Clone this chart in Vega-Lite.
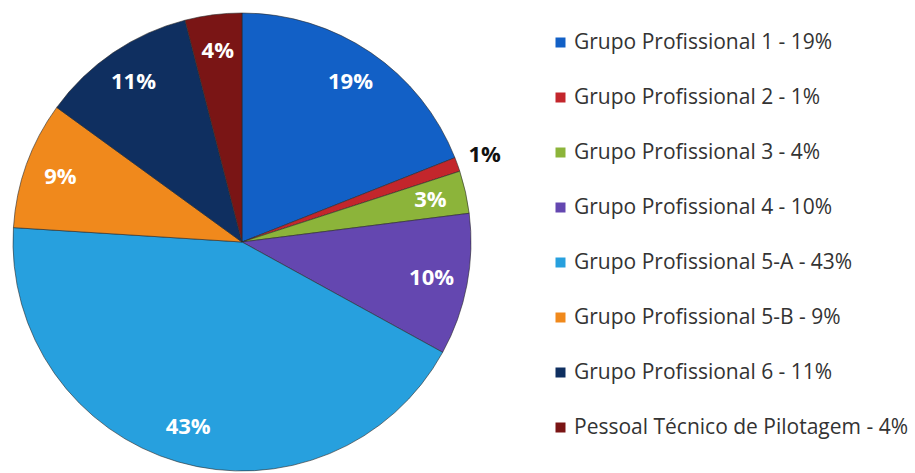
{
  "$schema": "https://vega.github.io/schema/vega-lite/v6.json",
  "width": 484,
  "height": 484,
  "autosize": {"type": "none"},
  "padding": {"left": 0, "top": 0, "right": 431, "bottom": 0},
  "background": "white",
  "data": {
    "values": [
      {"k": 1, "grupo": "Grupo Profissional 1 - 19%", "valor": 19, "rotulo": "19%"},
      {"k": 2, "grupo": "Grupo Profissional 2 - 1%", "valor": 1, "rotulo": "1%"},
      {"k": 3, "grupo": "Grupo Profissional 3 - 4%", "valor": 3, "rotulo": "3%"},
      {"k": 4, "grupo": "Grupo Profissional 4 - 10%", "valor": 10, "rotulo": "10%"},
      {"k": 5, "grupo": "Grupo Profissional 5-A - 43%", "valor": 43, "rotulo": "43%"},
      {"k": 6, "grupo": "Grupo Profissional 5-B - 9%", "valor": 9, "rotulo": "9%"},
      {"k": 7, "grupo": "Grupo Profissional 6 - 11%", "valor": 11, "rotulo": "11%"},
      {"k": 8, "grupo": "Pessoal Técnico de Pilotagem - 4%", "valor": 4, "rotulo": "4%"}
    ]
  },
  "encoding": {
    "theta": {"field": "valor", "type": "quantitative", "stack": true},
    "order": {"field": "k", "type": "quantitative"},
    "color": {
      "field": "grupo",
      "type": "nominal",
      "scale": {
        "domain": ["Grupo Profissional 1 - 19%", "Grupo Profissional 2 - 1%", "Grupo Profissional 3 - 4%", "Grupo Profissional 4 - 10%", "Grupo Profissional 5-A - 43%", "Grupo Profissional 5-B - 9%", "Grupo Profissional 6 - 11%", "Pessoal Técnico de Pilotagem - 4%"],
        "range": ["#1260c6", "#c3262c", "#8cb43a", "#6447b0", "#27a0de", "#f0891c", "#0f2f60", "#7a1515"]
      },
      "legend": {
        "orient": "none",
        "legendX": 550,
        "legendY": 32,
        "title": null,
        "symbolType": "square",
        "symbolSize": 100,
        "symbolStrokeWidth": 0,
        "labelFont": "Open Sans",
        "labelFontSize": 21,
        "labelColor": "#333333",
        "labelOffset": 3,
        "labelLimit": 400,
        "rowPadding": 33
      }
    }
  },
  "layer": [
    {
      "mark": {"type": "arc", "outerRadius": 229, "stroke": "#2a2a2a", "strokeWidth": 0.6}
    },
    {
      "mark": {"type": "text", "radius": 193, "font": "Open Sans", "fontSize": 22, "fontWeight": "bold"},
      "encoding": {
        "text": {"condition": {"test": "datum.k != 2", "field": "rotulo"}, "value": ""},
        "color": {"value": "white"}
      }
    },
    {
      "mark": {"type": "text", "radius": 258, "font": "Open Sans", "fontSize": 22, "fontWeight": "bold"},
      "encoding": {
        "text": {"condition": {"test": "datum.k == 2", "field": "rotulo"}, "value": ""},
        "color": {"value": "#111111"}
      }
    }
  ]
}
